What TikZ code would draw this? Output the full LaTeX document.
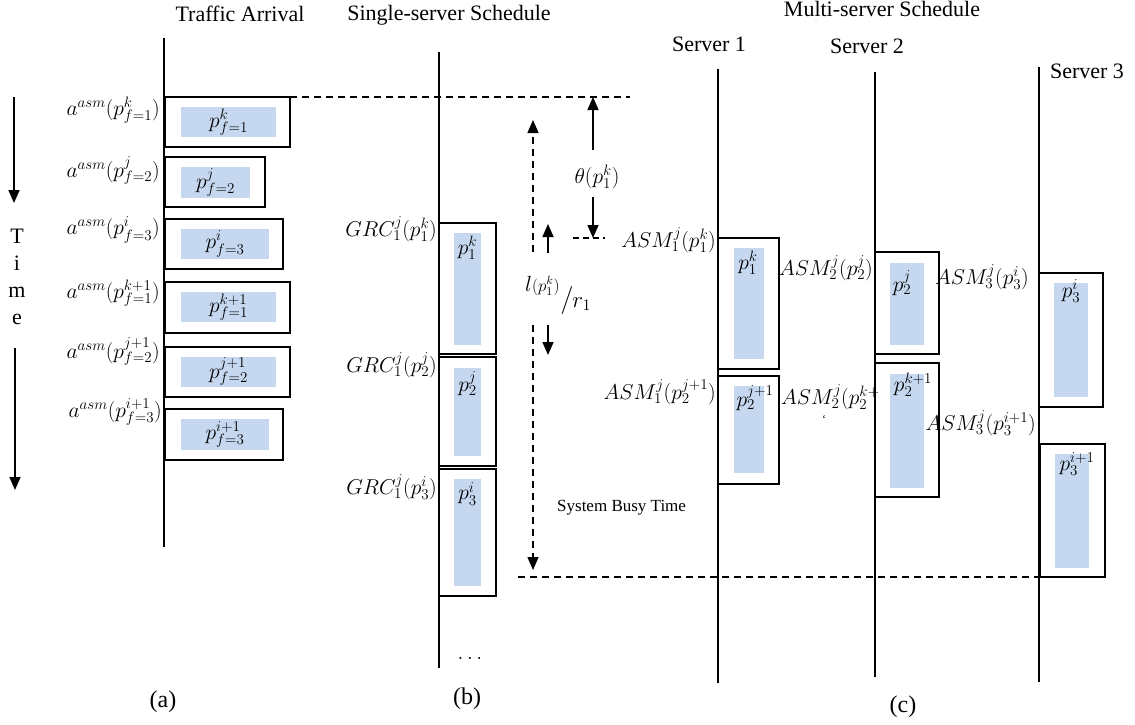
\RequirePackage{fix-cm}
\documentclass[tikz,border=0pt]{standalone}
\usepackage{fontspec}
\setmainfont{Liberation Serif}
\usetikzlibrary{arrows.meta}
\definecolor{pktblue}{RGB}{198,216,240}
\newcommand\mathsz{\fontsize{21.5}{24}\selectfont}
\newcommand\titlesz{\fontsize{22}{26}\selectfont}
\begin{document}
\begin{tikzpicture}[x=1pt,y=-1pt,
  axisline/.style={line width=1.7pt},
  pbox/.style={draw, line width=2.1pt, anchor=north west, inner sep=0pt, outer sep=0pt},
  pfill/.style={fill=pktblue, anchor=north west, inner sep=0pt, outer sep=0pt},
  mlabel/.style={font=\mathsz, inner sep=0pt},
  ttl/.style={font=\titlesz, inner sep=0pt},
  guide/.style={line width=1.4pt, dash pattern=on 7pt off 5pt},
  arrowhd/.style={-{Triangle[width=11pt,length=13pt]}},
  solidarr/.style={line width=1.6pt, arrowhd},
]
\useasboundingbox (0,0) rectangle (1135,725);

% ---------- (a) traffic arrival ----------
\node[ttl] (ta) at (240,14) {Traffic Arrival};
\coordinate (aTop) at (164,38);
\coordinate (aBot) at (164,547);
\draw[axisline] (aTop) -- (aBot);

% time axis
\coordinate (t1s) at (14,97);  \coordinate (t1e) at (14,203);
\coordinate (t2s) at (15,348); \coordinate (t2e) at (15,490);
\draw[solidarr] (t1s) -- (t1e);
\draw[solidarr] (t2s) -- (t2e);
\node[ttl, align=center, font=\fontsize{22}{27}\selectfont] (tw) at (17,277) {T\\i\\m\\e};

% packets
\node[pbox, minimum width=125, minimum height=50] (a1) at (165,97) {};
\node[pfill, minimum width=95, minimum height=30] (a1f) at (181,107) {};
\node[mlabel] (a1t) at (a1f) {$p^k_{f=1}$};
\node[mlabel, anchor=east] (a1l) at (160,110) {$a^{asm}(p^k_{f=1})$};

\node[pbox, minimum width=100, minimum height=50] (a2) at (165,157) {};
\node[pfill, minimum width=69, minimum height=31] (a2f) at (181,167) {};
\node[mlabel] (a2t) at (a2f) {$p^j_{f=2}$};
\node[mlabel, anchor=east] (a2l) at (160,171) {$a^{asm}(p^j_{f=2})$};

\node[pbox, minimum width=118, minimum height=50] (a3) at (165,219) {};
\node[pfill, minimum width=88, minimum height=30] (a3f) at (181,229) {};
\node[mlabel] (a3t) at (a3f) {$p^i_{f=3}$};
\node[mlabel, anchor=east] (a3l) at (160,230) {$a^{asm}(p^i_{f=3})$};

\node[pbox, minimum width=125, minimum height=51] (a4) at (165,282) {};
\node[pfill, minimum width=95, minimum height=30] (a4f) at (181,292) {};
\node[mlabel] (a4t) at (a4f) {$p^{k+1}_{f=1}$};
\node[mlabel, anchor=east] (a4l) at (160,293) {$a^{asm}(p^{k+1}_{f=1})$};

\node[pbox, minimum width=125, minimum height=50] (a5) at (165,347) {};
\node[pfill, minimum width=95, minimum height=30] (a5f) at (181,357) {};
\node[mlabel] (a5t) at (a5f) {$p^{j+1}_{f=2}$};
\node[mlabel, anchor=east] (a5l) at (160,352) {$a^{asm}(p^{j+1}_{f=2})$};

\node[pbox, minimum width=118, minimum height=51] (a6) at (165,409) {};
\node[pfill, minimum width=88, minimum height=31] (a6f) at (181,419) {};
\node[mlabel] (a6t) at (a6f) {$p^{i+1}_{f=3}$};
\node[mlabel, anchor=east] (a6l) at (162,412) {$a^{asm}(p^{i+1}_{f=3})$};

\node[ttl, font=\fontsize{24}{28}\selectfont] (capa) at (163,702) {(a)};

% ---------- (b) single-server schedule ----------
\node[ttl] (tb) at (449,15) {Single-server Schedule};
\coordinate (bTop) at (439,52);
\coordinate (bBot) at (439,668);
\draw[axisline] (bTop) -- (bBot);

\node[pbox, minimum width=57, minimum height=131] (b1) at (439,223) {};
\node[pfill, minimum width=27, minimum height=112] (b1f) at (454,233) {};
\node[mlabel, anchor=north] (b1t) at ([yshift=-3]b1f.north) {$p^k_1$};
\node[mlabel, anchor=east] (b1l) at (437,229) {$GRC^j_1(p^k_1)$};

\node[pbox, minimum width=57, minimum height=109] (b2) at (439,357) {};
\node[pfill, minimum width=27, minimum height=88] (b2f) at (454,368) {};
\node[mlabel, anchor=north] (b2t) at ([yshift=-3]b2f.north) {$p^j_2$};
\node[mlabel, anchor=east] (b2l) at (437,365) {$GRC^j_1(p^j_2)$};

\node[pbox, minimum width=57, minimum height=127] (b3) at (439,469) {};
\node[pfill, minimum width=27, minimum height=107] (b3f) at (454,479) {};
\node[mlabel, anchor=north] (b3t) at ([yshift=-3]b3f.north) {$p^i_3$};
\node[mlabel, anchor=east] (b3l) at (437,487) {$GRC^j_1(p^i_3)$};

\node[mlabel] (bdots) at (470,658) {$\ldots$};
\node[ttl, font=\fontsize{24}{28}\selectfont] (capb) at (467,699) {(b)};

% reference lines
\coordinate (topEnd) at (630,97);
\draw[guide] (a1.north east) -- (topEnd);
\coordinate (botStart) at (518,577);
\coordinate (botEnd) at (1072,577);
\draw[guide] (botStart) -- (botEnd);

% theta offset
\node[mlabel] (theta) at (597,177) {$\theta(p^k_1)$};
\coordinate (thA) at (593,150); \coordinate (thUp) at (593,97);
\coordinate (thB) at (593,197); \coordinate (thDn) at (593,238);
\draw[solidarr] (thA) -- (thUp);
\draw[solidarr] (thB) -- (thDn);
\coordinate (thL) at (573,238);
\coordinate (thR) at (605,238);
\draw[guide, dash pattern=on 6pt off 4pt] (thL) -- (thR);

% service time l/r, set as a slanted fraction
\node[inner sep=0pt, anchor=base west] (lr) at (525,307)
  {\raisebox{16pt}{\fontsize{22}{24}\selectfont$l$\fontsize{17}{19}\selectfont$(p_1^k)$}%
   \kern1pt\fontsize{28}{30}\selectfont$/$\kern-1pt\fontsize{23}{25}\selectfont$r_1$};
\coordinate (lrUpA) at (548,253); \coordinate (lrUpB) at (548,224);
\coordinate (lrDnA) at (548,325); \coordinate (lrDnB) at (548,355);
\draw[solidarr] (lrUpA) -- (lrUpB);
\draw[solidarr] (lrDnA) -- (lrDnB);

% system busy time
\coordinate (sbA) at (533,252); \coordinate (sbB) at (533,120);
\coordinate (sbC) at (533,325); \coordinate (sbD) at (533,570);
\draw[guide, arrowhd] (sbA) -- (sbB);
\draw[guide, arrowhd] (sbC) -- (sbD);
\node[inner sep=0pt, anchor=west, font=\fontsize{17}{20}\selectfont] (sbt) at (557,508) {System Busy Time};

% ---------- (c) multi-server schedule ----------
\node[ttl] (tc) at (882,9) {Multi-server Schedule};
\node[ttl] (s1) at (709,44) {Server 1};
\node[ttl] (s2) at (867,46) {Server 2};
\node[ttl] (s3) at (1087,71) {Server 3};

\coordinate (c1Top) at (718,69);  \coordinate (c1Bot) at (718,683);
\coordinate (c2Top) at (875,72);  \coordinate (c2Bot) at (875,677);
\coordinate (c3Top) at (1039,67); \coordinate (c3Bot) at (1039,682);
\draw[axisline] (c1Top) -- (c1Bot);
\draw[axisline] (c2Top) -- (c2Bot);
\draw[axisline] (c3Top) -- (c3Bot);

% server 1
\node[pbox, minimum width=61, minimum height=131] (c11) at (718,238) {};
\node[pfill, minimum width=30, minimum height=111] (c11f) at (734,248) {};
\node[mlabel] (c11t) at (748,263) {$p^k_1$};
\node[mlabel, anchor=east] (c11l) at (716,240) {$ASM^j_1(p^k_1)$};

\node[pbox, minimum width=61, minimum height=108] (c12) at (718,376) {};
\node[pfill, minimum width=30, minimum height=87] (c12f) at (734,386) {};
\node[mlabel] (c12t) at (755,398) {$p^{j+1}_2$};
\node[mlabel, anchor=east] (c12l) at (716,392) {$ASM^j_1(p^{j+1}_2)$};

% server 2
\node[pbox, minimum width=64, minimum height=102] (c21) at (875,252) {};
\node[pfill, minimum width=34, minimum height=82] (c21f) at (890,263) {};
\node[mlabel] (c21t) at (902,283) {$p^j_2$};
\node[mlabel, anchor=east] (c21l) at (873,268) {$ASM^j_2(p^j_2)$};

\node[pbox, minimum width=64, minimum height=134] (c22) at (875,363) {};
\node[pfill, minimum width=34, minimum height=114] (c22f) at (890,374) {};
\node[mlabel] (c22t) at (913,385) {$p^{k+1}_2$};
\node[mlabel, anchor=west] (c22l) at (781,397) {$ASM^j_2(p^{k+}_2$};
\node[inner sep=0pt, font=\fontsize{12}{12}\selectfont] (c22m) at (824,420) {`};

% server 3
\node[pbox, minimum width=64, minimum height=134] (c31) at (1039,273) {};
\node[pfill, minimum width=34, minimum height=114] (c31f) at (1054,283) {};
\node[mlabel] (c31t) at (1071,291) {$p^i_3$};
\node[mlabel, anchor=east] (c31l) at (1029,277) {$ASM^j_3(p^i_3)$};

\node[pbox, minimum width=65, minimum height=133] (c32) at (1040,444) {};
\node[pfill, minimum width=34, minimum height=114] (c32f) at (1055,454) {};
\node[mlabel] (c32t) at (1077,464) {$p^{i+1}_3$};
\node[mlabel, anchor=east] (c32l) at (1036,423) {$ASM^j_3(p^{i+1}_3)$};

\node[ttl, font=\fontsize{24}{28}\selectfont] (capc) at (903,707) {(c)};
\end{tikzpicture}
\end{document}
